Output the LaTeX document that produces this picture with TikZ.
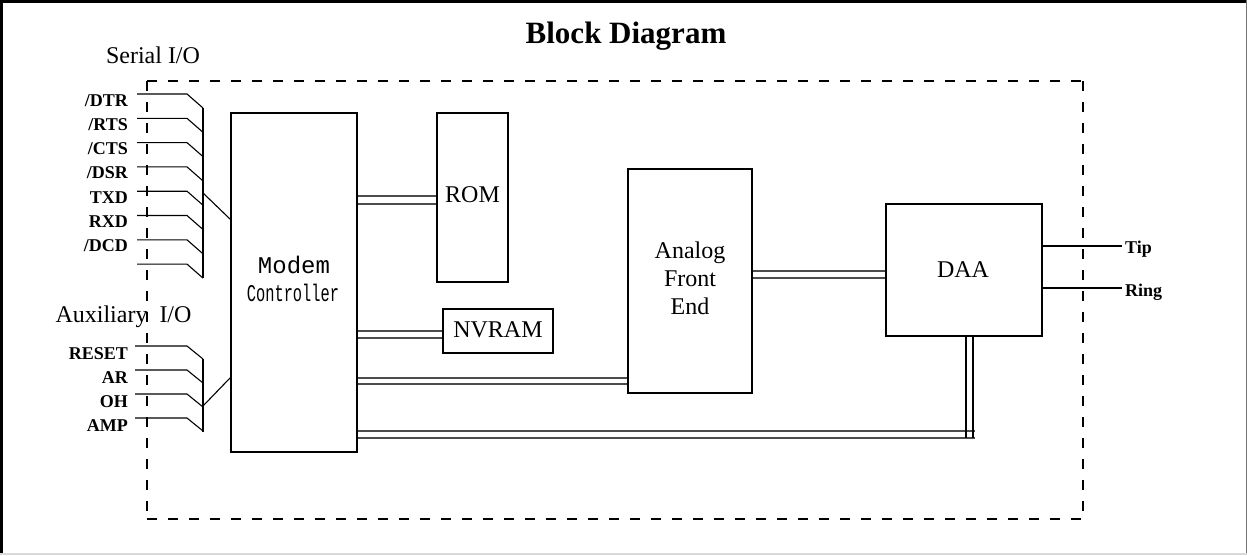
\documentclass[tikz,border=0pt]{standalone}
\usepackage{fontspec}
\setmainfont{Liberation Serif}
\newfontfamily\monofont{Liberation Mono}
\begin{document}
\begin{tikzpicture}[x=1pt,y=-1pt,
  dashbox/.style={line width=2.6pt, dash pattern=on 10pt off 11pt},
  sig/.style={line width=1.1pt},
  bus/.style={draw=black!70, line width=1.3pt},
  blk/.style={draw, line width=2pt, inner sep=0pt},
  thinblk/.style={draw, line width=1.3pt, inner sep=0pt},
  lab/.style={font=\bfseries\fontsize{18}{18}\selectfont, inner sep=0pt},
  boxtxt/.style={font=\fontsize{24}{24}\selectfont, inner sep=0pt, anchor=base},
  mono/.style={font=\monofont\fontsize{24}{24}\selectfont, inner sep=0pt, anchor=base}]
\useasboundingbox (0,0) rectangle (1247,555);
% outer frame
\draw[line width=3pt] (1.5,555) -- (1.5,1.5) -- (1247,1.5);
\draw[black!55, line width=1.2pt] (1246.4,0) -- (1246.4,555);
\draw[black!15, line width=1.5pt] (0,554) -- (1247,554);
% title
\node[font=\bfseries\fontsize{31}{31}\selectfont, inner sep=0pt, anchor=base] (title) at (626,43) {Block Diagram};
% dashed boundary
\coordinate (dTL) at (147,81);
\coordinate (dTR) at (1083,81);
\coordinate (dBL) at (147,519);
\coordinate (dBR) at (1083,519);
\draw[dashbox] (dTL) -- (dTR);
\draw[dashbox] (dTL) -- (dBL);
\draw[dashbox] (dBL) -- (dBR);
\draw[dashbox] (dTR) -- (dBR);
% blocks
\node[blk, minimum width=126pt, minimum height=339pt] (mc) at (294,282.5) {};
\node[blk, minimum width=71pt, minimum height=169pt] (rom) at (472.5,197.5) {};
\node[blk, minimum width=110pt, minimum height=44pt] (nvram) at (498,331) {};
\node[blk, minimum width=124pt, minimum height=224pt] (afe) at (690,281) {};
\node[thinblk, minimum width=156pt, minimum height=132pt] (daa) at (964,270) {};
% block texts
\node[mono] (mct1) at (294,273) {Modem};
\node[mono] (mct2) at (293,301) {\scalebox{0.64}[1]{Controller}};
\node[boxtxt] (romt) at (472.5,202) {ROM};
\node[boxtxt] (nvt) at (498,337) {NVRAM};
\node[font=\fontsize{24}{28}\selectfont, inner sep=0pt, align=center] (afet) at (690,278) {Analog\\Front\\End};
\node[boxtxt] (daat) at (963,277) {DAA};
% group labels
\node[font=\fontsize{24}{24}\selectfont, inner sep=0pt, anchor=base] (ser) at (153,63) {Serial I/O};
\node[font=\fontsize{24}{24}\selectfont, inner sep=0pt, anchor=base] (aux) at (123.5,322) {Auxiliary\ \ I/O};
% serial signals
\foreach \k in {0,...,7} {
  \coordinate (s\k) at (137,{94+24.3*\k});
  \draw[sig] (s\k) -- ++(50,0) -- ++(16,14);
}
\coordinate (sbT) at (203,108);
\coordinate (sbB) at (203,278);
\draw[sig] (sbT) -- (sbB);
\coordinate (stap) at (203,193);
\draw[sig] (stap) -- ([yshift=63.5pt]mc.west);
\node[lab, anchor=base east] (l1) at (128,106) {/DTR};
\node[lab, anchor=base east] (l2) at (128,130.3) {/RTS};
\node[lab, anchor=base east] (l3) at (128,154.6) {/CTS};
\node[lab, anchor=base east] (l4) at (128,178.9) {/DSR};
\node[lab, anchor=base east] (l5) at (128,203.2) {TXD};
\node[lab, anchor=base east] (l6) at (128,227.5) {RXD};
\node[lab, anchor=base east] (l7) at (128,251.8) {/DCD};
% auxiliary signals
\foreach \k in {0,...,3} {
  \coordinate (a\k) at (135,{346+24*\k});
  \draw[sig] (a\k) -- ++(52,0) -- ++(16,13);
}
\coordinate (abT) at (203,359);
\coordinate (abB) at (203,432);
\draw[sig] (abT) -- (abB);
\coordinate (atap) at (203,406);
\draw[sig] (atap) -- ([yshift=-95.5pt]mc.west);
\node[lab, anchor=base east] (m1) at (128,359) {RESET};
\node[lab, anchor=base east] (m2) at (128,383) {AR};
\node[lab, anchor=base east] (m3) at (128,407) {OH};
\node[lab, anchor=base east] (m4) at (128,431) {AMP};
% buses
\coordinate (r1) at (0,196); \coordinate (r2) at (0,204);
\draw[bus] (mc.east |- r1) -- (rom.west |- r1);
\draw[bus] (mc.east |- r2) -- (rom.west |- r2);
\coordinate (n1) at (0,331); \coordinate (n2) at (0,338);
\draw[bus] (mc.east |- n1) -- (nvram.west |- n1);
\draw[bus] (mc.east |- n2) -- (nvram.west |- n2);
\coordinate (f1) at (0,378); \coordinate (f2) at (0,384);
\draw[bus] (mc.east |- f1) -- (afe.west |- f1);
\draw[bus] (mc.east |- f2) -- (afe.west |- f2);
\coordinate (g1) at (0,271); \coordinate (g2) at (0,278);
\draw[bus] (afe.east |- g1) -- (daa.west |- g1);
\draw[bus] (afe.east |- g2) -- (daa.west |- g2);
\coordinate (h1) at (975,431); \coordinate (h2) at (975,438);
\draw[bus] (mc.east |- h1) -- (h1);
\draw[bus] (mc.east |- h2) -- (h2);
\coordinate (v1) at (966,438); \coordinate (v2) at (973,438);
\draw[sig] (daa.south -| v1) -- (v1);
\draw[sig] (daa.south -| v2) -- (v2);
% tip and ring
\coordinate (tipE) at (1122,246);
\coordinate (ringE) at (1122,288);
\draw[sig] (daa.east |- tipE) -- (tipE);
\draw[sig] (daa.east |- ringE) -- (ringE);
\node[lab, anchor=base west] (tipl) at (1125,253) {Tip};
\node[lab, anchor=base west] (ringl) at (1125,296) {Ring};
\end{tikzpicture}
\end{document}
